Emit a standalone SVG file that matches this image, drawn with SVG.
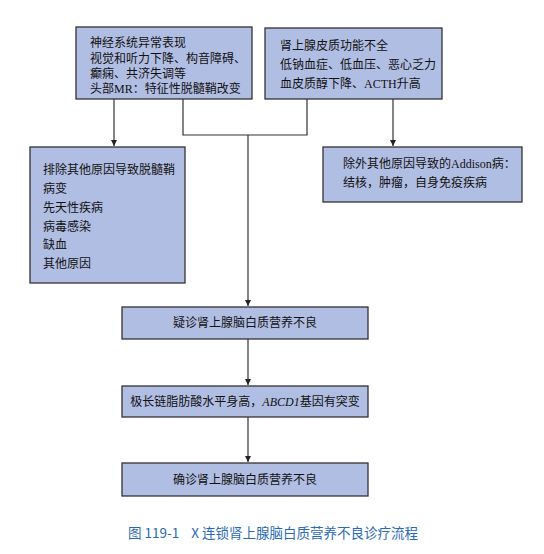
<svg xmlns="http://www.w3.org/2000/svg" width="544" height="554" viewBox="0 0 544 554">
<defs>
<marker id="ah" markerWidth="8" markerHeight="8" refX="6" refY="4" orient="auto" markerUnits="userSpaceOnUse">
<path d="M0,1 L6,4 L0,7 Z" fill="#222"/>
</marker>
<style>
.box{fill:#b1bee3;stroke:#333;stroke-width:1.3}
.t{font-family:"Liberation Serif","Noto Sans CJK SC",serif;font-size:12px;fill:#111}
.c{text-anchor:middle}
.ln{fill:none;stroke:#333;stroke-width:1.2}
.cap{font-family:"Noto Sans CJK SC","Liberation Sans",sans-serif;font-size:13.5px;fill:#2a6ab5}
</style>
</defs>
<rect width="544" height="554" fill="#fff"/>
<g id="connectors">
<path class="ln" d="M114,99 V146" marker-end="url(#ah)"/>
<path class="ln" d="M183,99 V135 H307 V99"/>
<path class="ln" d="M248,135 V306" marker-end="url(#ah)"/>
<path class="ln" d="M393,99 V146" marker-end="url(#ah)"/>
<path class="ln" d="M248,339 V385" marker-end="url(#ah)"/>
<path class="ln" d="M248,417 V462" marker-end="url(#ah)"/>
</g>
<g id="nodeA">
<rect class="box" x="76" y="27" width="176" height="72"/>
<text class="t" x="90" y="47">神经系统异常表现</text>
<text class="t" x="90" y="63">视觉和听力下降、构音障碍、</text>
<text class="t" x="90" y="78">癫痫、共济失调等</text>
<text class="t" x="90" y="93">头部MR：特征性脱髓鞘改变</text>
</g>
<g id="nodeB">
<rect class="box" x="265" y="28" width="177" height="71"/>
<text class="t" x="280" y="50">肾上腺皮质功能不全</text>
<text class="t" x="280" y="69">低钠血症、低血压、恶心乏力</text>
<text class="t" x="280" y="88">血皮质醇下降、ACTH升高</text>
</g>
<g id="nodeC">
<rect class="box" x="30" y="147" width="155" height="136"/>
<text class="t" x="43" y="174">排除其他原因导致脱髓鞘</text>
<text class="t" x="43" y="193">病变</text>
<text class="t" x="43" y="212">先天性疾病</text>
<text class="t" x="43" y="231">病毒感染</text>
<text class="t" x="43" y="249">缺血</text>
<text class="t" x="43" y="268">其他原因</text>
</g>
<g id="nodeD">
<rect class="box" x="323" y="147" width="199" height="55"/>
<text class="t" x="343" y="168">除外其他原因导致的Addison病：</text>
<text class="t" x="343" y="187">结核，肿瘤，自身免疫疾病</text>
</g>
<g id="nodeE">
<rect class="box" x="122" y="307" width="246" height="32"/>
<text class="t c" x="245" y="327">疑诊肾上腺脑白质营养不良</text>
</g>
<g id="nodeF">
<rect class="box" x="122" y="386" width="246" height="31"/>
<text class="t c" x="245" y="406">极长链脂肪酸水平身高，<tspan font-style="italic">ABCD1</tspan>基因有突变</text>
</g>
<g id="nodeG">
<rect class="box" x="122" y="463" width="246" height="33"/>
<text class="t c" x="245" y="484">确诊肾上腺脑白质营养不良</text>
</g>
<text class="cap" x="128" y="538" xml:space="preserve">图 119-1    X 连锁肾上腺脑白质营养不良诊疗流程</text>
</svg>
